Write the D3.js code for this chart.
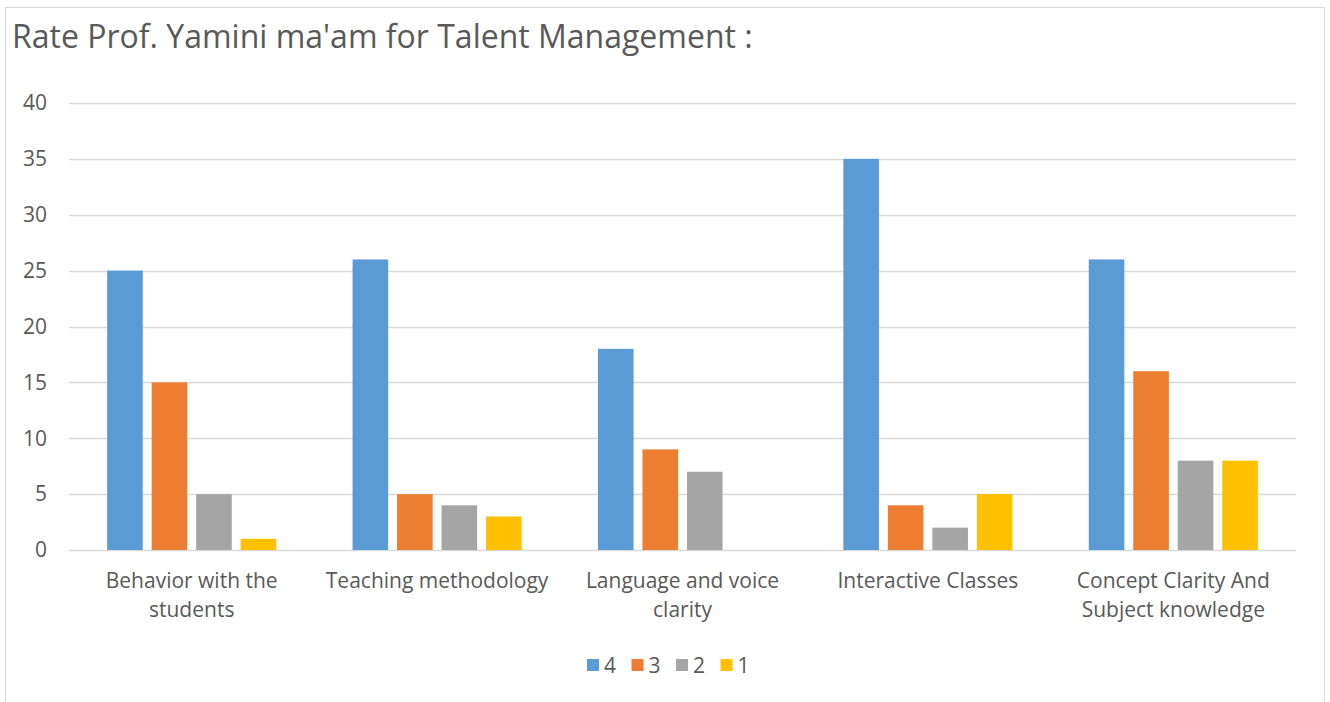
<!DOCTYPE html>
<html>
<head>
<meta charset="utf-8">
<script src="https://cdn.jsdelivr.net/npm/d3@7"></script>
<style>
  body { margin: 0; background: #fff; }
  text { font-family: "Open Sans", "Noto Sans", sans-serif; fill: #595959; }
</style>
</head>
<body>
<svg id="chart" width="1330" height="702"></svg>
<script>
// chart data
const categories = [
    "Behavior with the students",
    "Teaching methodology",
    "Language and voice clarity",
    "Interactive Classes",
    "Concept Clarity And Subject knowledge"
];
const series = ["4", "3", "2", "1"];
const values4 = [25, 26, 18, 35, 26];
const values3 = [15, 5, 9, 4, 16];
const values2 = [5, 4, 7, 2, 8];
const values1 = [1, 3, 0, 5, 8];
const yTicks = [0, 5, 10, 15, 20, 25, 30, 35, 40];
const colors = ["#5B9BD5", "#ED7D31", "#A5A5A5", "#FFC000"];

const seriesValues = [values4, values3, values2, values1];

const svg = d3.select("#chart");

// outer frame
svg.append("rect")
    .attr("x", 5.5).attr("y", 7.5)
    .attr("width", 1319).attr("height", 710)
    .attr("fill", "#fff")
    .attr("stroke", "#d9d9d9")
    .attr("stroke-width", 1);

svg.append("text")
    .attr("x", 12)
    .attr("y", 48)
    .attr("font-size", 32)
    .text("Rate Prof. Yamini ma'am for Talent Management :");

const x0 = d3.scaleBand()
    .domain(categories)
    .range([69, 1296])
    .paddingInner(0.311)
    .paddingOuter(0.1555);

const x1 = d3.scaleBand()
    .domain(series)
    .range([0, x0.bandwidth()])
    .paddingInner(0.2);

const y = d3.scaleLinear()
    .domain([0, 40])
    .range([550, 103]);

// gridlines
svg.append("g")
    .selectAll("line")
    .data(yTicks)
    .enter().append("line")
    .attr("x1", 69)
    .attr("x2", 1296)
    .attr("y1", d => Math.round(y(d)) + 0.5)
    .attr("y2", d => Math.round(y(d)) + 0.5)
    .attr("stroke", "#d9d9d9")
    .attr("stroke-width", d => d === 0 ? 1.5 : 1.3);

// y labels
svg.append("g")
    .selectAll("text")
    .data(yTicks)
    .enter().append("text")
    .attr("x", 47)
    .attr("y", d => y(d))
    .attr("dy", "0.35em")
    .attr("text-anchor", "end")
    .attr("font-size", 21)
    .text(d => d);

// bars
const group = svg.append("g")
    .selectAll("g")
    .data(categories)
    .enter().append("g")
    .attr("transform", d => `translate(${x0(d)},0)`);

group.selectAll("rect")
    .data((d, i) => series.map((s, j) => ({ key: s, value: seriesValues[j][i], color: colors[j] })))
    .enter().append("rect")
    .attr("x", d => x1(d.key))
    .attr("y", d => y(d.value))
    .attr("width", x1.bandwidth())
    .attr("height", d => y(0) - y(d.value))
    .attr("fill", d => d.color);

// category labels, wrapped
const catLabels = svg.append("g")
    .selectAll("text")
    .data(categories)
    .enter().append("text")
    .attr("x", d => x0(d) + x0.bandwidth() / 2)
    .attr("y", 588)
    .attr("text-anchor", "middle")
    .attr("font-size", 21)
    .each(function(d) { wrap(d3.select(this), d, 238); });

function wrap(text, str, width) {
    const words = str.split(" ");
    let line = [];
    let tspan = text.append("tspan").attr("x", text.attr("x")).attr("dy", 0);
    words.forEach(w => {
        line.push(w);
        tspan.text(line.join(" "));
        if (tspan.node().getComputedTextLength() > width && line.length > 1) {
            line.pop();
            tspan.text(line.join(" "));
            line = [w];
            tspan = text.append("tspan").attr("x", text.attr("x")).attr("dy", 29).text(w);
        }
    });
}

// legend
const legend = svg.append("g")
    .selectAll("g")
    .data(series)
    .enter().append("g")
    .attr("transform", (d, i) => `translate(${587 + i * 44.5},659)`);

legend.append("rect")
    .attr("width", 12)
    .attr("height", 12)
    .attr("fill", (d, i) => colors[i]);

legend.append("text")
    .attr("x", 17)
    .attr("y", 6)
    .attr("dy", "0.36em")
    .attr("font-size", 21)
    .text(d => d);
</script>
</body>
</html>
